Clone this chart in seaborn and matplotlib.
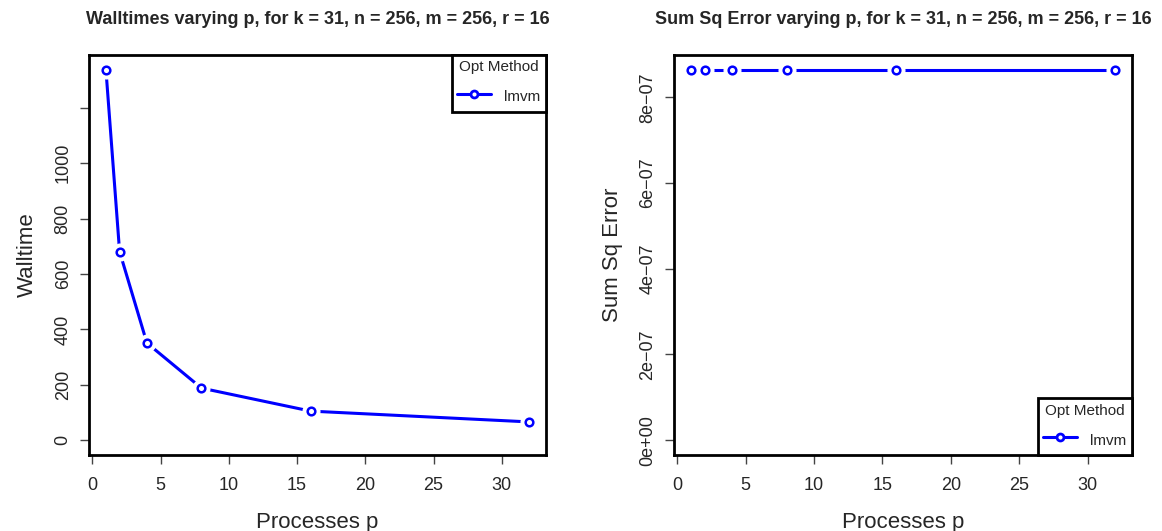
import matplotlib
matplotlib.use("Agg")
import matplotlib.pyplot as plt
from matplotlib.lines import Line2D
from matplotlib.ticker import FuncFormatter
import seaborn as sns

# data
procs = [1, 2, 4, 8, 16, 32]
walltime = [1337, 681, 351, 188, 105, 66]
sum_sq_error = [8.64e-07, 8.64e-07, 8.64e-07, 8.64e-07, 8.64e-07, 8.64e-07]
method = "lmvm"

wall_ticks = [0, 200, 400, 600, 800, 1000, 1200]
wall_labels = ["0", "200", "400", "600", "800", "1000", ""]
err_ticks = [0, 2e-07, 4e-07, 6e-07, 8e-07]
x_ticks = [0, 5, 10, 15, 20, 25, 30]

sns.set_theme(style="ticks")
plt.rcParams["font.family"] = ["Liberation Sans", "DejaVu Sans"]

fig = plt.figure(figsize=(11.62, 5.31), dpi=100)
ax1 = fig.add_axes([0.0766, 0.1431, 0.3933, 0.7533])
ax2 = fig.add_axes([0.5800, 0.1431, 0.3942, 0.7533])


def r_style_panel(ax, y, ymax, title, ylabel, legend_loc):
    # line first, then white halos to leave gaps like R's type="b"
    sns.lineplot(x=procs, y=y, ax=ax, color="blue", linewidth=2.2)
    ax.plot(procs, y, linestyle="none", marker="o", markersize=12,
            markerfacecolor="white", markeredgecolor="white", zorder=3)
    ax.plot(procs, y, linestyle="none", marker="o", markersize=5.5,
            markerfacecolor="white", markeredgecolor="blue",
            markeredgewidth=1.8, zorder=4)

    pad_x = (max(procs) - min(procs)) * 0.04
    ax.set_xlim(min(procs) - pad_x, max(procs) + pad_x)
    ax.set_ylim(-0.04 * ymax, ymax * 1.04)

    for s in ax.spines.values():
        s.set_visible(True)
        s.set_linewidth(2)
        s.set_color("black")
    ax.tick_params(direction="out", length=6.5, width=1, color="#444444",
                   labelsize=13, pad=6)
    ax.tick_params(axis="x", pad=9)
    ax.set_xticks(x_ticks)
    ax.set_title(title, fontsize=13, fontweight="bold", pad=22)
    ax.set_xlabel("Processes p", fontsize=16, labelpad=13)
    ax.set_ylabel(ylabel, fontsize=16, labelpad=12)

    handle = Line2D([0], [0], color="blue", linewidth=2.2, marker="o",
                    markersize=5, markerfacecolor="white",
                    markeredgecolor="blue", markeredgewidth=2)
    leg = ax.legend([handle], [method], title="Opt Method", loc=legend_loc,
                    fontsize=11, title_fontsize=11, frameon=True,
                    fancybox=False, borderaxespad=0, handlelength=2.2,
                    handleheight=1.6, handletextpad=0.9, borderpad=0.35,
                    labelspacing=0.8)
    leg.get_frame().set_edgecolor("black")
    leg.get_frame().set_linewidth(2)
    leg.get_frame().set_alpha(1)


r_style_panel(ax1, walltime, max(walltime),
              "Walltimes varying p, for k = 31, n = 256, m = 256, r = 16",
              "Walltime", "upper right")
ax1.set_yticks(wall_ticks)
ax1.set_yticklabels(wall_labels, rotation=90, va="center")

r_style_panel(ax2, sum_sq_error, max(sum_sq_error),
              "Sum Sq Error varying p, for k = 31, n = 256, m = 256, r = 16",
              "Sum Sq Error", "lower right")
ax2.set_yticks(err_ticks)
ax2.yaxis.set_major_formatter(
    FuncFormatter(lambda v, pos: f"{v:.0e}".replace("-", "\u2212")))
for lab in ax2.get_yticklabels():
    lab.set_rotation(90)
    lab.set_va("center")

fig.savefig("out.png", dpi=100)
